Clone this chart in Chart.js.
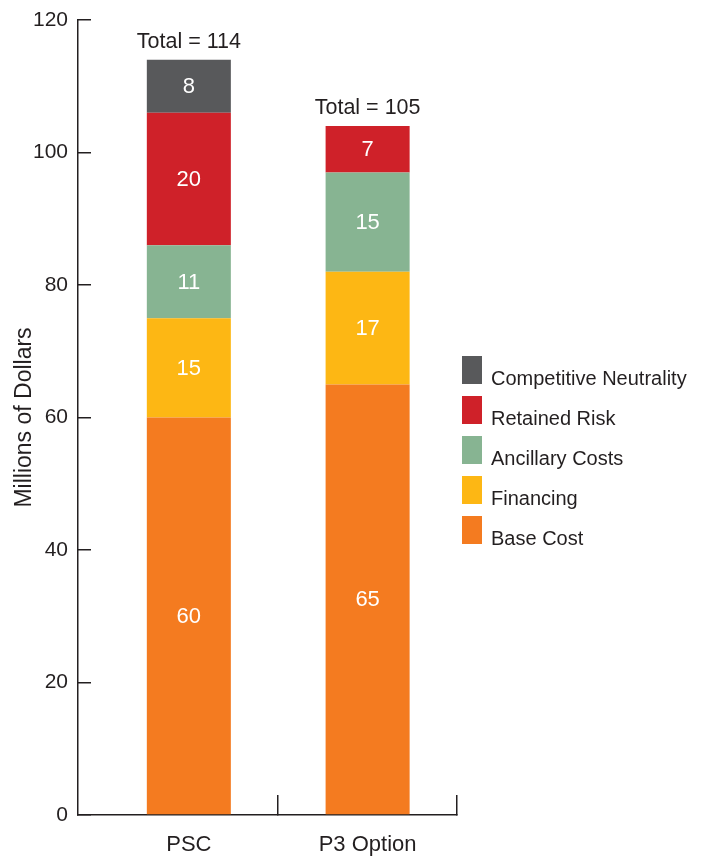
<!DOCTYPE html>
<html>
<head>
<meta charset="utf-8">
<script src="https://cdn.jsdelivr.net/npm/chart.js@4.4.0/dist/chart.umd.min.js"></script>
<style>
  html, body { margin: 0; padding: 0; background: #fff; }
  #wrap { width: 702px; height: 857px; }
</style>
</head>
<body>
<div id="wrap"><canvas id="chart"></canvas></div>
<script>
const options = ['PSC', 'P3 Option'];
const baseCost = [60, 65];
const financing = [15, 17];
const ancillaryCosts = [11, 15];
const retainedRisk = [20, 7];
const competitiveNeutrality = [8, null];
const totals = [114, 105];

const ink = '#231f20';
const font = '"Liberation Sans", Arial, Helvetica, sans-serif';

function points(values) {
    return values.map((v, i) => ({ x: i, y: v }));
}

// value labels inside bars + totals above each stack
const barLabels = {
    id: 'barLabels',
    afterDatasetsDraw(chart) {
        const ctx = chart.ctx;
        ctx.save();
        ctx.textAlign = 'center';
        ctx.textBaseline = 'middle';
        ctx.fillStyle = '#ffffff';
        ctx.font = '22px ' + font;
        chart.data.datasets.forEach((ds, d) => {
            const meta = chart.getDatasetMeta(d);
            meta.data.forEach((bar, i) => {
                const v = ds.data[i].y;
                if (v == null) return;
                const c = bar.getCenterPoint();
                ctx.fillText(String(v), c.x, c.y + 1);
            });
        });

        ctx.fillStyle = ink;
        ctx.font = '21.5px ' + font;
        ctx.textBaseline = 'alphabetic';
        const yScale = chart.scales.y;
        const xScale = chart.scales.x;
        options.forEach((name, i) => {
            let top = 0;
            chart.data.datasets.forEach(ds => { top += ds.data[i].y || 0; });
            ctx.fillText('Total = ' + totals[i], xScale.getPixelForValue(i), yScale.getPixelForValue(top) - 12);
        });
        ctx.restore();
    }
};

// legend to the right of the plot, top entry = top of the stack
const sideLegend = {
    id: 'sideLegend',
    afterDraw(chart) {
        const ctx = chart.ctx;
        const area = chart.chartArea;
        const x = area.right + 5;
        let y = 356;
        ctx.save();
        ctx.font = '20px ' + font;
        ctx.textAlign = 'left';
        ctx.textBaseline = 'alphabetic';
        chart.data.datasets.slice().reverse().forEach(ds => {
            ctx.fillStyle = ds.backgroundColor;
            ctx.fillRect(x, y, 20, 28);
            ctx.fillStyle = ink;
            ctx.fillText(ds.label, x + 29, y + 28.5);
            y += 40;
        });
        ctx.restore();
    }
};

new Chart(document.getElementById('chart'), {
    type: 'bar',
    data: {
        datasets: [
            { label: 'Base Cost', data: points(baseCost), backgroundColor: '#f47b20' },
            { label: 'Financing', data: points(financing), backgroundColor: '#fdb714' },
            { label: 'Ancillary Costs', data: points(ancillaryCosts), backgroundColor: '#87b492' },
            { label: 'Retained Risk', data: points(retainedRisk), backgroundColor: '#cf2129' },
            { label: 'Competitive Neutrality', data: points(competitiveNeutrality), backgroundColor: '#58595b' },
        ]
    },
    options: {
        responsive: true,
        maintainAspectRatio: false,
        animation: false,
        layout: { padding: { top: 20, right: 245, left: 0, bottom: 0 } },
        datasets: {
            bar: { categoryPercentage: 1, barPercentage: 0.47, borderWidth: 0 }
        },
        scales: {
            x: {
                type: 'linear',
                stacked: true,
                offset: false,
                min: -0.62,
                max: 1.5,
                afterBuildTicks: (s) => { s.ticks = options.map((n, i) => ({ value: i })); },
                afterFit: (s) => { s.height = 42; },
                ticks: {
                    callback: (v, i) => options[i],
                    color: ink,
                    font: { family: font, size: 22 },
                    padding: 37,
                    maxRotation: 0,
                    autoSkip: false
                },
                grid: {
                    offset: true,
                    drawOnChartArea: false,
                    tickLength: -20,
                    lineWidth: 1.5,
                    color: (c) => c.index === 0 ? 'rgba(0,0,0,0)' : ink
                },
                border: { color: ink, width: 1.5 }
            },
            y: {
                stacked: true,
                min: 0,
                max: 120,
                afterFit: (s) => {
                    s.width = 78;
                    s.paddingTop = 12;
                    s.paddingBottom = 12;
                },
                ticks: {
                    stepSize: 20,
                    color: ink,
                    font: { family: font, size: 21 },
                    padding: 23
                },
                grid: {
                    drawOnChartArea: false,
                    tickLength: -13,
                    lineWidth: 1.5,
                    color: ink
                },
                border: { color: ink, width: 1.5 },
                title: {
                    display: true,
                    text: 'Millions of Dollars',
                    color: ink,
                    font: { family: font, size: 23 },
                    padding: { top: 11, bottom: 0 }
                }
            }
        },
        plugins: {
            legend: { display: false },
            tooltip: { enabled: false }
        }
    },
    plugins: [barLabels, sideLegend]
});
</script>
</body>
</html>
